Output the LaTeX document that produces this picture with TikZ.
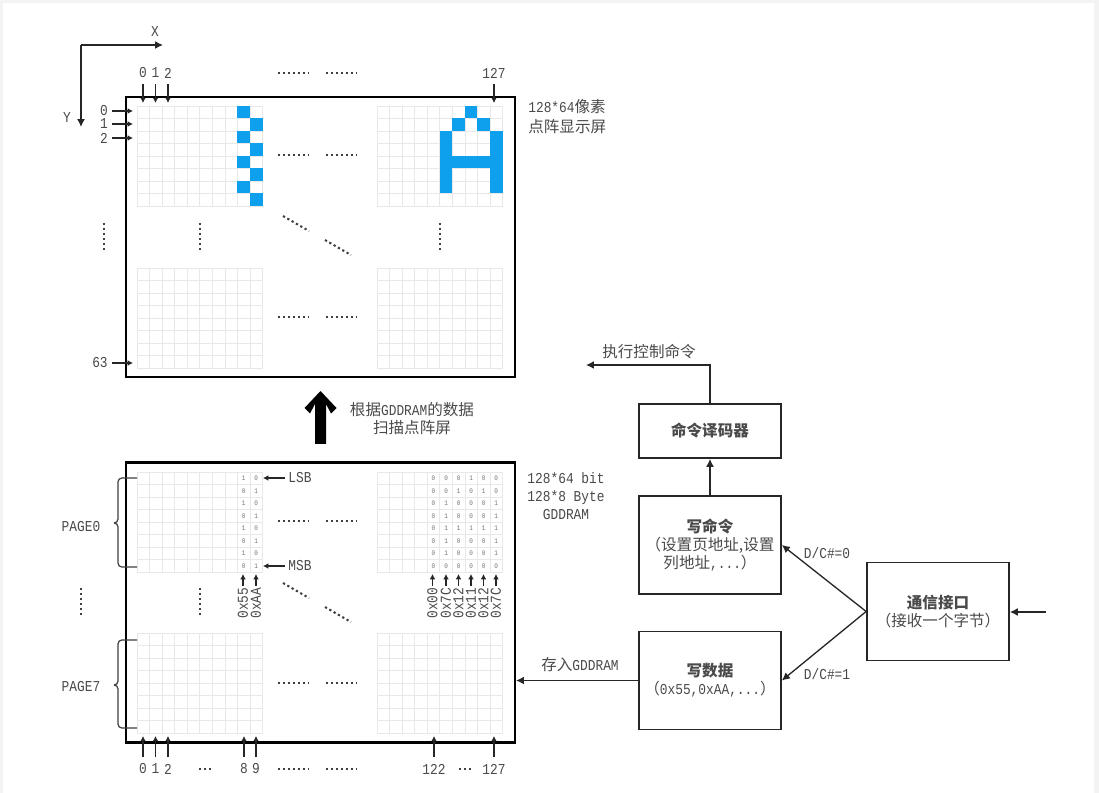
\documentclass[tikz,border=0pt]{standalone}
\usepackage{fontspec}
\setmainfont[FakeStretch=0.85]{Liberation Mono}
\newfontfamily\cjk[Scale=1.03]{Noto Sans CJK SC}
\usetikzlibrary{arrows.meta, positioning}
\definecolor{ledon}{HTML}{0EA0EC}
\definecolor{inkgray}{HTML}{4A4A4A}
\definecolor{cellline}{HTML}{E8E8E8}
\definecolor{pagebg}{HTML}{F3F3F3}

% 网格: 左上角 x, y
\newcommand{\ledgrid}[2]{
    \foreach \i in {0,...,10} \draw [cellline, line width=0.4pt] ({#1+12.55*\i},#2) -- ++(0,100);
    \foreach \j in {0,...,8} \draw [cellline, line width=0.4pt] (#1,{#2+12.5*\j}) -- ++(125.5,0);
}
% 点亮的像素: 网格 x, y 和 列/行
\newcommand{\ledcells}[3]{
    \foreach \c/\r in {#3} \fill [ledon] ({#1+12.55*\c},{#2+12.5*\r}) rectangle ++(12.55,12.5);
}
% 字节的位: 网格 x, y, 起始列, 每行的位
\newcommand{\bitcells}[4]{
    \foreach \bits [count=\r from 0] in {#4}
        \foreach \b [count=\c from #3] in \bits
            \node (bit#1r\r c\c) [bitval] at ({#1+12.55*\c+6.3},{#2+12.5*\r+6.25}) {\b};
}

\begin{document}
\begin{tikzpicture}[
    x=0.02cm, y=-0.02cm,
    font=\fontsize{8.6}{10.3}\selectfont,
    % 定义节点的样式
    every node/.style={inner sep=0pt, text=inkgray},
    frame/.style={rectangle, draw=black, line width=1.25pt, minimum width=7.78cm, minimum height=5.6cm},
    block/.style={rectangle, draw=black!85, line width=1pt, minimum width=2.84cm, minimum height=1.96cm, align=center},
    bitval/.style={font=\fontsize{4}{4}\selectfont, text=black!55},
    arrow/.style={-{Latex[length=4.5pt,width=4.5pt]}, draw=black!85, line width=0.75pt},
    tick/.style={-{Latex[length=3pt,width=3.2pt]}, draw=black!85, line width=0.8pt},
    brace/.style={draw=black!75, line width=0.7pt, rounded corners=2.2pt},
    dotrow/.style={draw=black!75, line width=1.15pt, dash pattern=on 1.3pt off 1.535pt}
]
\useasboundingbox (0,0) rectangle (1099,793);
\fill [pagebg] (0,0) rectangle (1099,793);
\fill [white] (3,3) rectangle (1094,793);

% --- 点阵显示屏 ---
\ledgrid{137}{106}
\ledgrid{377}{106}
\ledgrid{137}{268}
\ledgrid{377}{268}
\ledcells{137}{106}{8/0,9/1,8/2,9/3,8/4,9/5,8/6,9/7}
\ledcells{377}{106}{7/0,6/1,8/1,5/2,9/2,5/3,9/3,5/4,6/4,7/4,8/4,9/4,5/5,9/5,5/6,9/6}
\node (screen) [frame] at (320.5,237) {};

% --- GDDRAM ---
\ledgrid{137}{472}
\ledgrid{377}{472}
\ledgrid{137}{633}
\ledgrid{377}{633}
\bitcells{137}{472}{8}{{1,0},{0,1},{1,0},{0,1},{1,0},{0,1},{1,0},{0,1}}
\bitcells{377}{472}{4}{{0,0,0,1,0,0},{0,0,1,0,1,0},{0,1,0,0,0,1},{0,1,0,0,0,1},{0,1,1,1,1,1},{0,1,0,0,0,1},{0,1,0,0,0,1},{0,0,0,0,0,0}}
\node (ram) [frame] at (320.5,602.5) {};

% 坐标轴
\coordinate (axis) at (81,45);
\coordinate (axisx) at (163,45);
\coordinate (axisy) at (81,127);
\draw [arrow] (axis) -- (axisx);
\draw [arrow] (axis) -- (axisy);
\node (labelx) at (155,32) {X};
\node (labely) at (67,118) {Y};

% 上方的列号
\foreach \x/\t in {143/0,155.5/1,168/2,494/127} {
    \node (top\t) at (\x,73) {\t};
    \coordinate (topa\t) at (\x,84);
    \coordinate (topb\t) at (\x,103);
    \draw [tick] (topa\t) -- (topb\t);
}
% 左边的行号
\foreach \y/\t/\lx in {111/0/104,124/1/104,138/2/104,363/63/100} {
    \node (left\t) at (\lx,\y) {\t};
    \coordinate (lefta\t) at (112,\y);
    \coordinate (leftb\t) at (133,\y);
    \draw [tick] (lefta\t) -- (leftb\t);
}
% 下方的列号
\foreach \x/\t in {143/0,155.5/1,168/2,244/8,256/9,434/122,494/127} {
    \node (bot\t) at (\x,769) {\t};
    \coordinate (bota\t) at (\x,757);
    \coordinate (botb\t) at (\x,736);
    \draw [tick] (bota\t) -- (botb\t);
}

% 省略号
\foreach \x/\y in {278/73,326/73,278/155,326/155,278/317,326/317,278/521,326/521,278/683,326/683,278/769,326/769}
    \draw [dotrow] (\x,\y) -- ++(30,0);
\foreach \x/\y in {104/223,200/223,440/223,81/588,200/588}
    \draw [dotrow] (\x,\y) -- ++(0,28);
\foreach \x/\y in {283/216,325/240,283/583,325/607}
    \draw [dotrow] (\x,\y) -- ++(26,15);
\foreach \x in {199,459}
    \draw [dotrow] (\x,769) -- ++(14,0);

% 花括号
\draw [brace] (137,478) -- (118,478) -- (118,523) -- (114,523);
\draw [brace] (114,523) -- (118,523) -- (118,567) -- (137,567);
\draw [brace] (137,640) -- (118,640) -- (118,685) -- (114,685);
\draw [brace] (114,685) -- (118,685) -- (118,728) -- (137,728);
\node (page0) at (81,527) {PAGE0};
\node (page7) at (81,687) {PAGE7};

% LSB, MSB
\node (lsb) at (300,478) {LSB};
\node (msb) at (300,566) {MSB};
\coordinate (lsbend) at (263,478);
\coordinate (msbend) at (263,566);
\draw [tick] (lsb.west) ++(-3,0) -- (lsbend);
\draw [tick] (msb.west) ++(-3,0) -- (msbend);

% 字节的值
\foreach \x/\t [count=\n] in {243/0x55,256/0xAA,432.5/0x00,446/0x7C,458.5/0x12,471/0x11,483.5/0x12,496/0x7C} {
    \node (hex\n) [rotate=90] at (\x,603) {\t};
    \coordinate (hexa\n) at (\x,586);
    \coordinate (hexb\n) at (\x,574);
    \draw [tick] (hexa\n) -- (hexb\n);
}

% 说明文字
\node (screennote) [align=left, anchor=west] at (528,117) {128*64{\cjk 像素}\\[1pt]{\cjk 点阵显示屏}};
\node (ramnote) [align=center] at (566,496) {128*64 bit\\128*8 Byte\\GDDRAM};
\node (scannote) [align=center] at (412,419) {{\cjk 根据}GDDRAM{\cjk 的数据}\\{\cjk 扫描点阵屏}};

% 粗箭头
\fill [black] (320.5,391) -- (336.5,408) -- (331,413.5) -- (326,404) -- (326,444) -- (315,444) -- (315,404) -- (310,413.5) -- (304.5,408) -- cycle;

% --- 右边的方框 ---
\node (decoder) [block, minimum height=1.08cm] at (710,431) {\bfseries\cjk 命令译码器};
\node (writecmd) [block] at (710,545) {{\bfseries\cjk 写命令}\\{\cjk （设置页地址,设置}\\{\cjk 列地址},...{\cjk ）}};
\node (writedata) [block] at (710,680.5) {{\bfseries\cjk 写数据}\\{\cjk （}0x55,0xAA,...{\cjk ）}};
\node (iface) [block] at (938,611.5) {{\bfseries\cjk 通信接口}\\{\cjk （接收一个字节）}};

% --- 绘制箭头 ---
\coordinate (execend) at (586,365);
\coordinate (infrom) at (1046,612);
\draw [arrow] (writecmd) -- (decoder);
\draw [arrow] (decoder.north) |- (execend);
\draw [arrow] (iface.west) -- (writecmd.east);
\draw [arrow] (iface.west) -- (writedata.east);
\draw [arrow] (infrom) -- (infrom -| iface.east);
\draw [arrow] (writedata.west) -- (writedata.west -| ram.east);

\node (execnote) at (649,352) {\cjk 执行控制命令};
\node (storenote) at (580,665) {{\cjk 存入}GDDRAM};
\node (dc0) at (827,553) {D/C\#=0};
\node (dc1) at (827,674) {D/C\#=1};
\end{tikzpicture}
\end{document}
